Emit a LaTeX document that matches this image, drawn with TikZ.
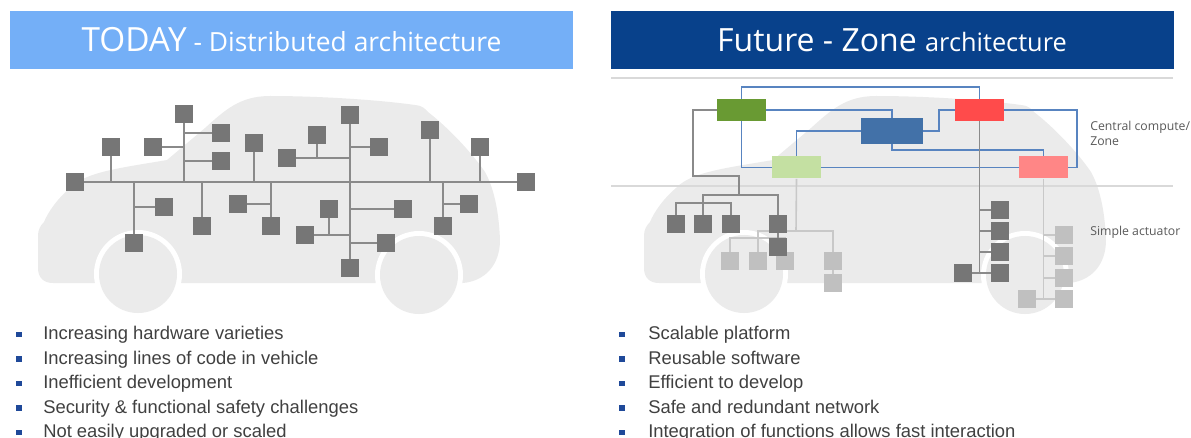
\documentclass[tikz,border=0pt]{standalone}
\usepackage{fontspec}
\setmainfont{Liberation Sans}
\newfontfamily\headfont{Open Sans}
\usetikzlibrary{calc}

\definecolor{todayblue}{RGB}{116,175,247}
\definecolor{futureblue}{RGB}{8,65,139}
\definecolor{carbody}{RGB}{235,235,235}
\definecolor{ecugray}{RGB}{118,118,118}
\definecolor{ecolight}{RGB}{192,192,192}
\definecolor{wiregray}{RGB}{138,138,138}
\definecolor{wirelight}{RGB}{200,200,200}
\definecolor{netblue}{RGB}{88,132,192}
\definecolor{zgreen}{RGB}{105,154,51}
\definecolor{zlgreen}{RGB}{196,224,162}
\definecolor{zblue}{RGB}{66,113,168}
\definecolor{zred}{RGB}{255,75,75}
\definecolor{zpink}{RGB}{255,134,134}
\definecolor{divider}{RGB}{217,217,217}
\definecolor{bodytext}{RGB}{64,64,64}
\definecolor{labeltext}{RGB}{89,89,89}
\definecolor{bulletblue}{RGB}{31,73,153}

\tikzset{
  header/.style={rectangle, inner sep=0pt, minimum width=422.25pt,
    minimum height=43.5pt, text=white, font=\headfont},
  ecu/.style={rectangle, fill=ecugray, minimum size=13.5pt, inner sep=0pt},
  ecul/.style={ecu, fill=ecolight},
  zonebox/.style={rectangle, minimum width=36.75pt, minimum height=16.5pt, inner sep=0pt},
  wire/.style={draw=wiregray, line width=1.5pt},
  dwire/.style={draw=wiregray, line width=1.2pt},
  lwire/.style={draw=wirelight, line width=1.2pt},
  bwire/.style={draw=netblue, line width=1.2pt},
  item/.style={anchor=base west, inner sep=0pt, text=bodytext,
    font=\fontsize{13.8}{16}\selectfont},
  bulletmark/.style={rectangle, fill=bulletblue, minimum size=4.3pt, inner sep=0pt},
  sidelabel/.style={anchor=north west, inner sep=0pt, align=left, text=labeltext,
    font=\headfont\fontsize{9.2}{11.25}\selectfont},
}

% car silhouette with two wheels, in pixel-like units
\newcommand{\carshape}{%
  \fill[carbody] (53,283) -- (463,283)
    .. controls (485,281) and (500,265) .. (500,240)
    .. controls (499,215) and (495,190) .. (485,172)
    .. controls (470,150) and (445,125) .. (428,112)
    .. controls (424,108) and (423,106) .. (415,105)
    .. controls (380,100) and (320,96) .. (270,96)
    .. controls (240,96) and (225,110) .. (205,128)
    -- (167,160)
    .. controls (120,168) and (85,172) .. (70,188)
    .. controls (58,198) and (48,212) .. (44,222)
    .. controls (40,226) and (38,230) .. (38,236)
    -- (38,268)
    .. controls (38,278) and (44,283) .. (53,283) -- cycle;
  \fill[white] (138,274) circle[radius=44];
  \fill[carbody] (138,274) circle[radius=39];
  \fill[white] (419,275) circle[radius=44];
  \fill[carbody] (419,275) circle[radius=39];
}

\begin{document}
\begin{tikzpicture}[x=0.75pt,y=-0.75pt]
\useasboundingbox (0,0) rectangle (1191,438);

% ---------- headers ----------
\node[header, fill=todayblue] (hdrL) at (291.5,40)
  {\fontsize{25}{29}\selectfont TODAY\fontsize{19.8}{24}\selectfont\ - Distributed architecture};
\node[header, fill=futureblue] (hdrR) at (892,40)
  {\fontsize{24}{28}\selectfont Future - Zone \fontsize{19}{24}\selectfont architecture};

% ---------- left: distributed network ----------
\carshape

\node[ecu] (t1) at (75,182) {};
\node[ecu] (t2) at (111,147) {};
\node[ecu] (t3) at (153,147) {};
\node[ecu] (t4) at (184,114) {};
\node[ecu] (t5) at (221,133) {};
\node[ecu] (t6) at (221,161) {};
\node[ecu] (t7) at (254,143) {};
\node[ecu] (t8) at (287,158) {};
\node[ecu] (t9) at (317,135) {};
\node[ecu] (t10) at (350,115) {};
\node[ecu] (t11) at (379,147) {};
\node[ecu] (t12) at (430,130) {};
\node[ecu] (t13) at (480,147) {};
\node[ecu] (t14) at (526,182) {};
\node[ecu] (b1) at (134,243) {};
\node[ecu] (b2) at (164,207) {};
\node[ecu] (b3) at (202,226) {};
\node[ecu] (b4) at (238,204) {};
\node[ecu] (b5) at (271,226) {};
\node[ecu] (b6) at (305,235) {};
\node[ecu] (b7) at (329,209) {};
\node[ecu] (b8) at (350,268) {};
\node[ecu] (b9) at (403,209) {};
\node[ecu] (b10) at (386,243) {};
\node[ecu] (b11) at (443,226) {};
\node[ecu] (b12) at (469,204) {};

\draw[wire] (t1) -- (t14);
\draw[wire] (t2) -- (t2 |- t1);
\draw[wire] (t4) -- (t4 |- t1);
\draw[wire] (t3) -- (t3 -| t4);
\draw[wire] (t5) -- (t5 -| t4);
\draw[wire] (t6) -- (t6 -| t4);
\draw[wire] (t7) -- (t7 |- t1);
\draw[wire] (t10) -- (b8);
\draw[wire] (t8) -- (t8 -| t10);
\draw[wire] (t9) -- (t9 |- t8);
\draw[wire] (t11) -- (t11 -| t10);
\draw[wire] (t12) -- (t12 |- t1);
\draw[wire] (t13) -- (t13 |- t1);
\draw[wire] (b1) -- (b1 |- t1);
\draw[wire] (b2) -- (b2 -| b1);
\draw[wire] (b3) -- (b3 |- t1);
\draw[wire] (b5) -- (b5 |- t1);
\draw[wire] (b4) -- (b4 -| b5);
\draw[wire] (b6) -- (b6 -| t10);
\draw[wire] (b7) -- (b7 |- b6);
\draw[wire] (b9) -- (b9 -| t10);
\draw[wire] (b10) -- (b10 -| t10);
\draw[wire] (b11) -- (b11 |- t1);
\draw[wire] (b12) -- (b12 -| b11);

% ---------- right: zone network ----------
\begin{scope}[shift={(606,0)}]
  \carshape
\end{scope}

\draw[divider, line width=1.5pt] (611,78) -- (1173,78);
\draw[divider, line width=1.5pt] (611,186) -- (1173,186);

\node[zonebox, fill=zgreen] (zg) at (741.5,110) {};
\node[zonebox, fill=zlgreen] (zlg) at (796.5,167.5) {};
\node[zonebox, fill=zblue, minimum width=46.5pt, minimum height=19.5pt] (zb) at (892,131) {};
\node[zonebox, fill=zred] (zr) at (979.5,110) {};
\node[zonebox, fill=zpink] (zp) at (1043.5,167.5) {};

\coordinate (topbus) at (800,87);
\coordinate (midbus) at (900,150);
\draw[bwire] (zg.north) |- (topbus -| zr) -- (zr.north);
\draw[bwire] (zg.south) |- (zlg.west);
\draw[bwire] (zg.east) -| (zb.north);
\draw[bwire] (zb.west) -| (zlg.north);
\draw[bwire] (zb.south) |- (midbus -| zp) -- (zp.north);
\draw[bwire] (zb.east) -- ++(16,0) |- (zr.west);
\draw[bwire] (zr.east) -- ++(73,0) |- (zp.east);
\draw[bwire] (zlg.east) -- (zp.west);

% light actuators behind the light green zone
\node[ecul] (l1) at (730,261) {};
\node[ecul] (l2) at (758,261) {};
\node[ecul] (l3) at (785,261) {};
\node[ecul] (l4) at (833,261) {};
\node[ecul] (l5) at (833,283) {};
\coordinate (lhub) at (796,231);
\coordinate (lbar) at (760,238);
\draw[lwire] (zlg.south) -- (lhub);
\draw[lwire] (l2.north) |- (lhub -| l4) -- (l4.north);
\draw[lwire] (l1.north) |- (lbar -| l3) -- (l3.north);
\draw[lwire] (l4) -- (l5);

% dark actuators behind the green zone
\node[ecu] (d1) at (676,224) {};
\node[ecu] (d2) at (703,224) {};
\node[ecu] (d3) at (731,224) {};
\node[ecu] (d4) at (778,224) {};
\node[ecu] (d5) at (778,247) {};
\coordinate (dhub) at (739,195);
\coordinate (dbar) at (700,203);
\draw[dwire] (zg.west) -| (693,176) -| (dhub);
\draw[dwire] (d2.north) |- (dhub -| d4) -- (d4.north);
\draw[dwire] (d1.north) |- (dbar -| d3) -- (d3.north);
\draw[dwire] (d4) -- (d5);

% light actuators behind the pink zone
\node[ecul] (l7) at (1064,235) {};
\node[ecul] (l8) at (1064,256) {};
\node[ecul] (l9) at (1064,278) {};
\node[ecul] (l10) at (1064,299) {};
\node[ecul] (l6) at (1027,299) {};
\draw[lwire] (zp.south) -- (zp.south |- l10);
\draw[lwire] (l6) -- (l10);
\draw[lwire] (l7) -- (l7 -| zp);
\draw[lwire] (l8) -- (l8 -| zp);
\draw[lwire] (l9) -- (l9 -| zp);

% dark actuators behind the red zone
\node[ecu] (r1) at (1000,210) {};
\node[ecu] (r2) at (1000,231) {};
\node[ecu] (r3) at (1000,252) {};
\node[ecu] (r4) at (1000,273) {};
\node[ecu] (r5) at (963,273) {};
\draw[dwire] (zr.south) -- (zr.south |- r4);
\draw[dwire] (r5) -- (r4);
\draw[dwire] (r1) -- (r1 -| zr);
\draw[dwire] (r2) -- (r2 -| zr);
\draw[dwire] (r3) -- (r3 -| zr);

\node[sidelabel] (lblzone) at (1090,121) {Central compute/\\Zone};
\node[sidelabel, anchor=west] (lblact) at (1090,232) {Simple actuator};

% ---------- bullet lists ----------
\node[bulletmark] (ml1) at (19,334.5) {};
\node[item] (il1) at (43,339.5) {Increasing hardware varieties};
\node[bulletmark] (ml2) at (19,359) {};
\node[item] (il2) at (43,364) {Increasing lines of code in vehicle};
\node[bulletmark] (ml3) at (19,383.5) {};
\node[item] (il3) at (43,388.5) {Inefficient development};
\node[bulletmark] (ml4) at (19,408) {};
\node[item] (il4) at (43,413) {Security \& functional safety challenges};
\node[bulletmark] (ml5) at (19,432.5) {};
\node[item] (il5) at (43,437.5) {Not easily upgraded or scaled};

\node[bulletmark] (mr1) at (622,334.5) {};
\node[item] (ir1) at (648,339.5) {Scalable platform};
\node[bulletmark] (mr2) at (622,359) {};
\node[item] (ir2) at (648,364) {Reusable software};
\node[bulletmark] (mr3) at (622,383.5) {};
\node[item] (ir3) at (648,388.5) {Efficient to develop};
\node[bulletmark] (mr4) at (622,408) {};
\node[item] (ir4) at (648,413) {Safe and redundant network};
\node[bulletmark] (mr5) at (622,432.5) {};
\node[item] (ir5) at (648,437.5) {Integration of functions allows fast interaction};

\end{tikzpicture}
\end{document}
